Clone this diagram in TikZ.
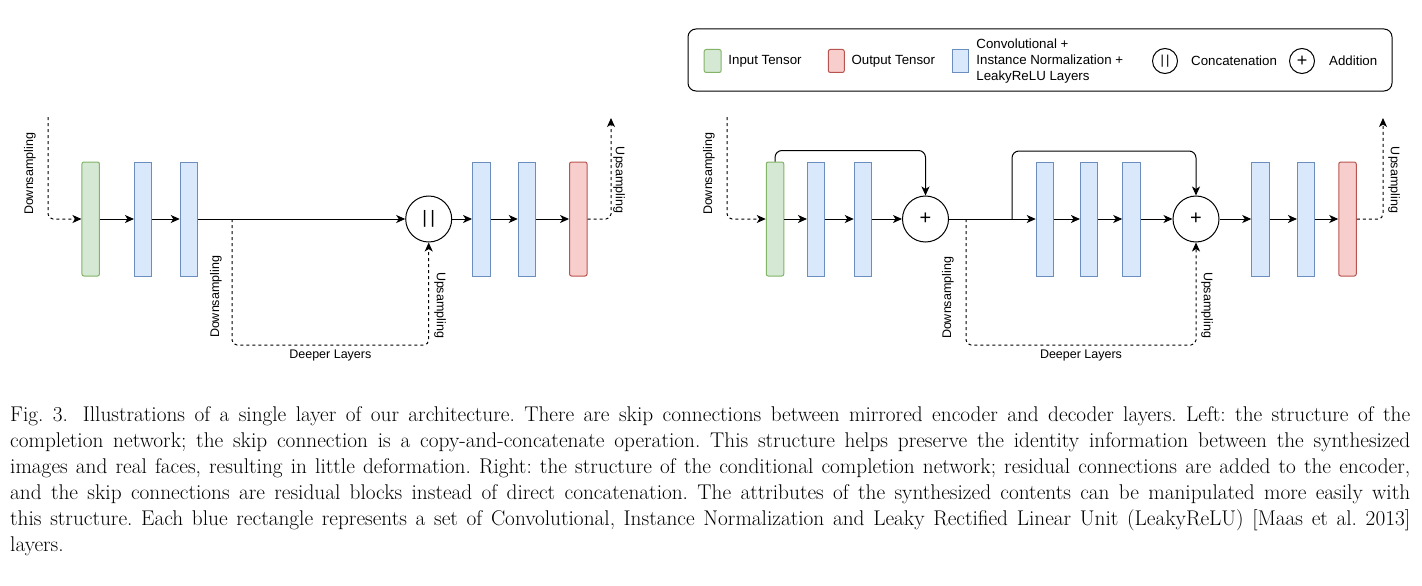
\documentclass[tikz,border=0pt]{standalone}
\usepackage{fontspec}
\newfontfamily\labelfont{Liberation Sans}
\usetikzlibrary{arrows.meta}
\usetikzlibrary{positioning}
\definecolor{inFill}{HTML}{D5E8D4}
\definecolor{inDraw}{HTML}{82B366}
\definecolor{outFill}{HTML}{F8CECC}
\definecolor{outDraw}{HTML}{B85450}
\definecolor{convFill}{HTML}{DAE8FC}
\definecolor{convDraw}{HTML}{6C8EBF}
\tikzset{
  layer/.style={draw=convDraw,fill=convFill,minimum width=17.5pt,minimum height=114pt,inner sep=0pt,line width=1pt},
  intensor/.style={layer,draw=inDraw,fill=inFill,rounded corners=2pt},
  outtensor/.style={layer,draw=outDraw,fill=outFill,rounded corners=2pt},
  opnode/.style={circle,draw,line width=1pt,minimum size=46pt,inner sep=0pt,font=\labelfont\fontsize{20}{20}\selectfont},
  lbl/.style={font=\labelfont\fontsize{12.5}{14}\selectfont,inner sep=0pt},
  legtext/.style={font=\labelfont\fontsize{13.3}{16}\selectfont,inner sep=0pt,align=left},
  arr/.style={->,line width=1pt},
  dasharr/.style={->,line width=1pt,dash pattern=on 3pt off 3pt,rounded corners=5pt},
}
\begin{document}
\begin{tikzpicture}[x=1pt,y=-1pt,>={Stealth[length=9pt,width=8pt,inset=2.5pt]}]
\useasboundingbox (0,0) rectangle (1422,586);

% left: completion network
\node[intensor] (inL) at (90.7,219) {};
\node[layer] (cL1) at (143.2,219) {};
\node[layer] (cL2) at (189,219) {};
\node[opnode,font=\labelfont\fontsize{18}{18}\selectfont] (cat) at (428.7,219) {|\kern3.5pt|};
\node[layer] (cL3) at (481.3,219) {};
\node[layer] (cL4) at (527,219) {};
\node[outtensor] (outL) at (578.3,219) {};
\coordinate (dsL) at (48,117);
\coordinate (usL) at (611,118);
\coordinate (brL) at (232,219);
\coordinate (dpL) at (232,345);
\draw[dasharr] (dsL) |- (inL);
\draw[arr] (inL) -- (cL1);
\draw[arr] (cL1) -- (cL2);
\draw[arr] (cL2) -- (cat);
\draw[arr] (cat) -- (cL3);
\draw[arr] (cL3) -- (cL4);
\draw[arr] (cL4) -- (outL);
\draw[dasharr] (outL.east) -| (usL);
\draw[dasharr] (brL) -- (dpL) -| node[pos=0.25,below=4pt,lbl]{Deeper Layers} (cat.south);
\node[lbl,rotate=90] (dnL1) at (30,174) {Downsampling};
\node[lbl,rotate=90] (dnL2) at (216,297) {Downsampling};
\node[lbl,rotate=-90] (upL1) at (440,305) {Upsampling};
\node[lbl,rotate=-90] (upL2) at (619,180) {Upsampling};

% right: conditional completion network
\node[intensor] (inR) at (775,219) {};
\node[layer] (cR1) at (816.2,219) {};
\node[layer] (cR2) at (863,219) {};
\node[opnode] (addA) at (925.5,219) {+};
\node[layer] (cR3) at (1045,219) {};
\node[layer] (cR4) at (1089.2,219) {};
\node[layer] (cR5) at (1131.5,219) {};
\node[opnode] (addB) at (1196,219) {+};
\node[layer] (cR6) at (1260.5,219) {};
\node[layer] (cR7) at (1306.2,219) {};
\node[outtensor] (outR) at (1347.5,219) {};
\coordinate (dsR) at (727,117);
\coordinate (usR) at (1383,118);
\coordinate (brR) at (966,219);
\coordinate (dpR) at (966,345);
\coordinate (skR) at (1012,219);
\draw[dasharr] (dsR) |- (inR);
\draw[arr] (inR) -- (cR1);
\draw[arr] (cR1) -- (cR2);
\draw[arr] (cR2) -- (addA);
\draw[arr] (addA) -- (cR3);
\draw[arr] (cR3) -- (cR4);
\draw[arr] (cR4) -- (cR5);
\draw[arr] (cR5) -- (addB);
\draw[arr] (addB) -- (cR6);
\draw[arr] (cR6) -- (cR7);
\draw[arr] (cR7) -- (outR);
\draw[arr,rounded corners=7pt] (inR.north) -- ++(0,-11) -| (addA.north);
\draw[arr,rounded corners=7pt] (skR) -- ++(0,-68) -| (addB.north);
\draw[dasharr] (outR.east) -| (usR);
\draw[dasharr] (brR) -- (dpR) -| node[pos=0.25,below=4pt,lbl]{Deeper Layers} (addB.south);
\node[lbl,rotate=90] (dnR1) at (709,174) {Downsampling};
\node[lbl,rotate=90] (dnR2) at (948,298) {Downsampling};
\node[lbl,rotate=-90] (upR1) at (1207,305) {Upsampling};
\node[lbl,rotate=-90] (upR2) at (1394,180) {Upsampling};

% legend
\draw[line width=1pt,rounded corners=8pt] (688,29) rectangle (1392,91);
\node[intensor,minimum width=17pt,minimum height=23pt] (swIn) at (712.7,61) {};
\node[legtext,right=6.5pt of swIn] (txIn) {Input Tensor};
\node[outtensor,minimum width=16pt,minimum height=23pt] (swOut) at (836.3,61) {};
\node[legtext,right=6.5pt of swOut] (txOut) {Output Tensor};
\node[layer,minimum width=16pt,minimum height=23pt] (swConv) at (960.7,61) {};
\node[legtext,right=7pt of swConv] (txConv) {Convolutional +\\Instance Normalization +\\LeakyReLU Layers};
\node[opnode,minimum size=25pt,font=\labelfont\fontsize{13}{13}\selectfont] (swCat) at (1165,61) {|\kern2.2pt|};
\node[legtext,right=13pt of swCat] (txCat) {Concatenation};
\node[opnode,minimum size=25pt,font=\labelfont\fontsize{18}{18}\selectfont] (swAdd) at (1302,61) {+};
\node[legtext,right=14pt of swAdd] (txAdd) {Addition};

% caption
\node[anchor=base west,inner sep=0pt,text width=1400pt,align=justify,font=\fontsize{21.3}{26}\selectfont\frenchspacing] (caption) at (10,421) {Fig.~3.\hspace{0.7em}Illustrations of a single layer of our architecture. There are skip connections between mirrored encoder and decoder layers. Left: the structure of the\linebreak
completion network; the skip connection is a copy-and-concatenate operation. This structure helps preserve the identity information between the synthesized\linebreak
images and real faces, resulting in little deformation. Right: the structure of the conditional completion network; residual connections are added to the encoder,\linebreak
and the skip connections are residual blocks instead of direct concatenation. The attributes of the synthesized contents can be manipulated more easily with\linebreak
this structure. Each blue rectangle represents a set of Convolutional, Instance Normalization and Leaky Rectified Linear Unit (LeakyReLU) [Maas et al. 2013]\linebreak
layers.};
\end{tikzpicture}
\end{document}
